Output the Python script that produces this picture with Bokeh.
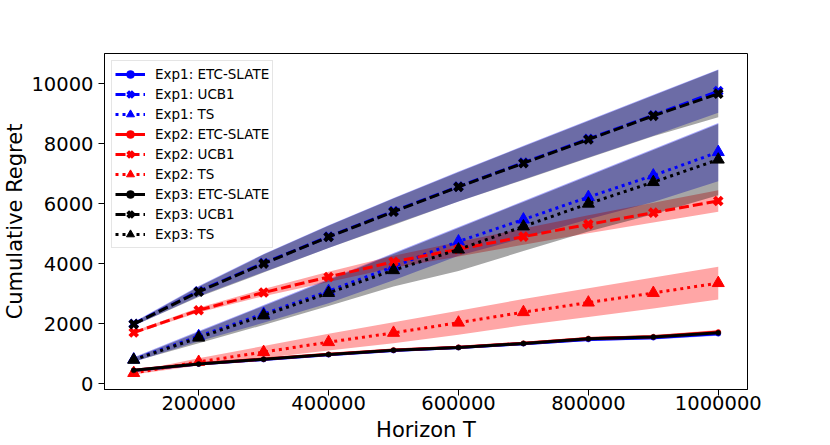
import numpy as np
from bokeh.plotting import figure
from bokeh.models import (Range1d, FixedTicker, Legend, LegendItem,
                          BasicTickFormatter)
from bokeh.embed import file_html
from bokeh.resources import INLINE

# ---------------- data ----------------
horizon = [100000, 200000, 300000, 400000, 500000,
           600000, 700000, 800000, 900000, 1000000]

etc_exp1 = [430, 650, 800, 960, 1100, 1200, 1330, 1470, 1530, 1660]
etc_exp2 = [440, 660, 815, 975, 1120, 1210, 1345, 1500, 1560, 1720]
etc_exp3 = [440, 650, 810, 970, 1110, 1200, 1335, 1490, 1555, 1690]

ucb_exp1 = [1990, 3080, 4020, 4900, 5750, 6570, 7370, 8160, 8950, 9755]
ucb_exp2 = [1700, 2445, 3035, 3555, 4060, 4480, 4900, 5310, 5700, 6090]
ucb_exp3 = [1980, 3060, 4000, 4890, 5730, 6560, 7350, 8140, 8930, 9670]

ts_exp1 = [800, 1580, 2320, 3080, 3900, 4740, 5470, 6220, 6940, 7720]
ts_exp2 = [350, 720, 1050, 1380, 1690, 2030, 2380, 2700, 3020, 3350]
ts_exp3 = [790, 1530, 2270, 3020, 3780, 4470, 5240, 6000, 6720, 7470]

# half-widths of the shaded bands
etc_sd = [20, 25, 30, 35, 40, 45, 50, 55, 60, 65]
ucb_sd_exp1 = [60, 170, 300, 380, 440, 500, 560, 620, 680, 722]
ucb_sd_exp2 = [40, 80, 120, 170, 200, 240, 270, 300, 330, 360]
ucb_sd_exp3 = [50, 170, 300, 370, 440, 490, 560, 620, 680, 790]
ts_sd_exp1 = [80, 168, 296, 404, 452, 480, 618, 736, 884, 972]
ts_sd_exp2 = [50, 120, 200, 280, 350, 400, 440, 480, 515, 545]
ts_sd_exp3 = [60, 188, 316, 434, 542, 720, 818, 926, 1074, 1192]

experiments = ["Exp1", "Exp2", "Exp3"]
algorithms = ["ETC-SLATE", "UCB1", "TS"]
exp_colors = ["#0000ff", "#ff0000", "#000000"]

means = {
    ("Exp1", "ETC-SLATE"): etc_exp1, ("Exp1", "UCB1"): ucb_exp1, ("Exp1", "TS"): ts_exp1,
    ("Exp2", "ETC-SLATE"): etc_exp2, ("Exp2", "UCB1"): ucb_exp2, ("Exp2", "TS"): ts_exp2,
    ("Exp3", "ETC-SLATE"): etc_exp3, ("Exp3", "UCB1"): ucb_exp3, ("Exp3", "TS"): ts_exp3,
}
sds = {
    ("Exp1", "ETC-SLATE"): etc_sd, ("Exp1", "UCB1"): ucb_sd_exp1, ("Exp1", "TS"): ts_sd_exp1,
    ("Exp2", "ETC-SLATE"): etc_sd, ("Exp2", "UCB1"): ucb_sd_exp2, ("Exp2", "TS"): ts_sd_exp2,
    ("Exp3", "ETC-SLATE"): etc_sd, ("Exp3", "UCB1"): ucb_sd_exp3, ("Exp3", "TS"): ts_sd_exp3,
}

x_ticks = [200000, 400000, 600000, 800000, 1000000]
y_ticks = [0, 2000, 4000, 6000, 8000, 10000]

# ---------------- styles ----------------
FONT = "DejaVu Sans"
algo_style = {
    "ETC-SLATE": dict(dash="solid", marker="circle", size=5, mlw=0.5),
    "UCB1": dict(dash="10 4", marker="x", size=11, mlw=4),
    "TS": dict(dash="3 4", marker="triangle", size=12, mlw=1),
}

p = figure(width=830, height=445, output_backend="svg", toolbar_location=None,
           x_range=Range1d(55000, 1045000), y_range=Range1d(-200, 11010),
           min_border_left=103, min_border_right=83, min_border_top=53,
           min_border_bottom=56)
p.background_fill_color = "white"
p.border_fill_color = "white"
p.outline_line_color = "black"
p.outline_line_width = 1
p.grid.visible = False

for ax in (p.xaxis[0], p.yaxis[0]):
    ax.major_label_text_font = FONT
    ax.major_label_text_font_size = "19.5px"
    ax.major_label_text_color = "black"
    ax.major_tick_in = 0
    ax.major_tick_out = 6
    ax.major_tick_line_color = "black"
    ax.minor_tick_line_color = None
    ax.axis_line_color = "black"
    ax.formatter = BasicTickFormatter(use_scientific=False)
    ax.axis_label_text_font = FONT
    ax.axis_label_text_font_size = "21px"
    ax.axis_label_text_font_style = "normal"
    ax.axis_label_text_color = "black"
p.xaxis[0].ticker = FixedTicker(ticks=x_ticks)
p.yaxis[0].ticker = FixedTicker(ticks=y_ticks)
p.xaxis[0].major_label_standoff = 0
p.yaxis[0].major_label_standoff = 5
p.xaxis[0].axis_label = "Horizon T"
p.yaxis[0].axis_label = "Cumulative Regret"
p.xaxis[0].axis_label_standoff = 5
p.yaxis[0].axis_label_standoff = 1

# bands
for exp, col in zip(experiments, exp_colors):
    for algo in algorithms:
        m = np.array(means[(exp, algo)], dtype=float)
        s = np.array(sds[(exp, algo)], dtype=float)
        p.varea(x=horizon, y1=m - s, y2=m + s, fill_color=col, fill_alpha=0.35)

# lines + markers
items = []
for exp, col in zip(experiments, exp_colors):
    for algo in algorithms:
        st = algo_style[algo]
        m = means[(exp, algo)]
        lr = p.line(horizon, m, line_color=col, line_width=3, line_dash=st["dash"])
        sr = p.scatter(horizon, m, marker=st["marker"], size=st["size"],
                       fill_color=col, line_color=col, line_width=st["mlw"])
        items.append(LegendItem(label=f"{exp}: {algo}", renderers=[lr, sr]))

legend = Legend(items=items, location="top_left")
legend.label_text_font = FONT
legend.label_text_font_size = "13.5px"
legend.label_text_color = "black"
legend.glyph_width = 30
legend.glyph_height = 20
legend.label_height = 20
legend.spacing = 0
legend.padding = 3
legend.margin = 7
legend.label_standoff = 10
legend.border_line_color = "#cccccc"
legend.border_line_width = 1
legend.background_fill_color = "white"
legend.background_fill_alpha = 0.85
p.add_layout(legend)

open("out.html", "w").write(file_html(p, INLINE))
